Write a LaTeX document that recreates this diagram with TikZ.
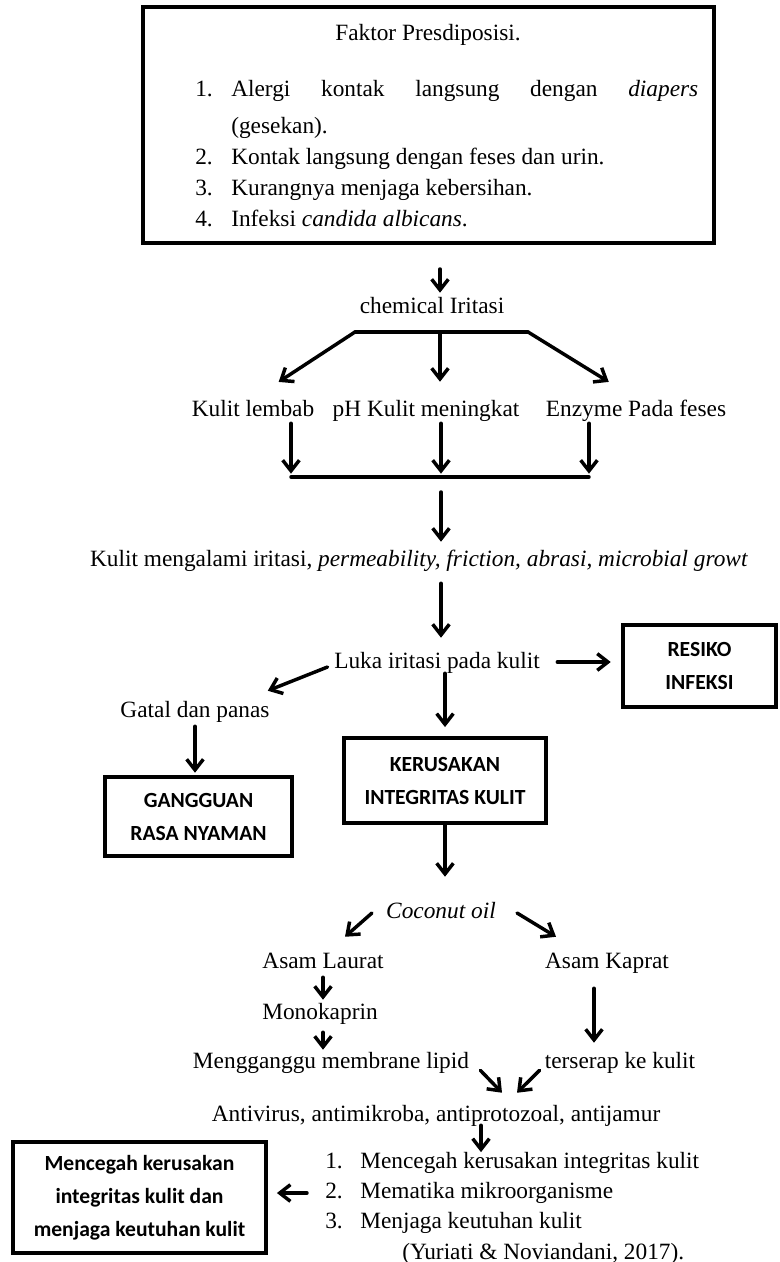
\documentclass[tikz,border=0pt]{standalone}
\usepackage{fontspec}
\setmainfont{Liberation Serif}
\newfontfamily\kotakfont{Carlito}
\usetikzlibrary{arrows.meta,calc}

\newcommand{\teks}{\fontsize{17.5pt}{23.25pt}\selectfont}
\newcommand{\tebal}{\kotakfont\bfseries\fontsize{16.2pt}{24.75pt}\selectfont}

\tikzset{
  panah/.style={line width=2.6pt,line cap=round,-{Straight Barb[length=8pt,width=12.5pt]}},
  garis/.style={line width=2.6pt,line cap=round},
  tulisan/.style={inner sep=0pt,text height=12.75pt,text depth=3.75pt,font=\teks},
  kotak/.style={draw,line width=2.4pt,align=center,inner sep=0pt,font=\tebal},
}

\begin{document}
\begin{tikzpicture}[x=0.75pt,y=0.75pt,yscale=-1,xscale=1]
\useasboundingbox (0,0) rectangle (779,1262);

% Text Node
\node[draw,line width=3pt,minimum width=428.25pt,minimum height=177pt] (faktor) at (428.5,125) {};
\node[tulisan] (judul) at (428,35) {Faktor Presdiposisi.};
\node[anchor=base west,inner sep=0pt,font=\teks] (daftar) at (195,97) {\begin{minipage}[t]{377pt}
\makebox[27pt][l]{1.}\makebox[350.25pt][s]{Alergi kontak langsung dengan \textit{diapers}}\\[4.5pt]
\hspace*{27pt}(gesekan).\\
\makebox[27pt][l]{2.}Kontak langsung dengan feses dan urin.\\
\makebox[27pt][l]{3.}Kurangnya menjaga kebersihan.\\
\makebox[27pt][l]{4.}Infeksi \textit{candida albicans}.
\end{minipage}};

% Text Node
\node[tulisan] (chem) at (432,308) {chemical Iritasi};
\coordinate (brl) at (355,332);
\coordinate (brm) at (440,332);
\coordinate (brr) at (528,332);
\node[tulisan] (lembab) at (253,410) {Kulit lembab};
\node[tulisan] (phkulit) at (426,410) {pH Kulit meningkat};
\node[tulisan] (enzim) at (636,410) {Enzyme Pada feses};
\coordinate (gbl) at (291,477);
\coordinate (gbm) at (441,477);
\coordinate (gbr) at (589,477);
\node[tulisan] (alami) at (419,560) {Kulit mengalami iritasi, \textit{permeability, friction, abrasi, microbial growt}};
\node[tulisan] (luka) at (437,662) {Luka iritasi pada kulit};
\node[kotak,minimum width=114.75pt,minimum height=61.5pt] (resiko) at (699.5,666) {RESIKO\\INFEKSI};
\node[tulisan] (gatal) at (195,711) {Gatal dan panas};
\node[kotak,minimum width=140.25pt,minimum height=59.25pt] (nyaman) at (198.5,816.5) {GANGGUAN\\RASA NYAMAN};
\node[kotak,minimum width=151.5pt,minimum height=63.75pt] (rusak) at (445,780.5) {KERUSAKAN\\INTEGRITAS KULIT};

% Text Node
\node[tulisan] (kelapa) at (441,912) {\textit{Coconut oil}};
\node[tulisan] (laurat) at (323,962) {Asam Laurat};
\node[tulisan] (kaprat) at (607,962) {Asam Kaprat};
\node[tulisan] (mono) at (320,1013) {Monokaprin};
\node[tulisan] (lipid) at (331,1062) {Mengganggu membrane lipid};
\node[tulisan] (serap) at (620,1062) {terserap ke kulit};
\node[tulisan] (anti) at (436,1115) {Antivirus, antimikroba, antiprotozoal, antijamur};
\node[anchor=west,inner sep=0pt,font=\teks] (hasil) at (325,1193) {\begin{minipage}{300pt}\fontsize{17.5pt}{22.5pt}\selectfont
\makebox[26.25pt][l]{1.}Mencegah kerusakan integritas kulit\\
\makebox[26.25pt][l]{2.}Mematika mikroorganisme\\
\makebox[26.25pt][l]{3.}Menjaga keutuhan kulit
\end{minipage}};
\node[tulisan,anchor=west] (sumber) at (402,1253) {(Yuriati \& Noviandani, 2017).};
\node[kotak,minimum width=189.75pt,minimum height=83.25pt] (cegah) at (139.5,1197.5) {Mencegah kerusakan\\integritas kulit dan\\menjaga keutuhan kulit};
\coordinate (sumbu) at (481,1140);

%Straight Lines
\draw[panah,shorten <=18pt,shorten >=3pt] (faktor.south -| brm) -- (chem.north -| brm);
\draw[garis] (brl) -- (brr);
\draw[panah,shorten >=23pt] (brl) -- (lembab.north);
\draw[panah,shorten >=12.75pt] (brm) -- (phkulit.north -| brm);
\draw[panah,shorten >=24pt] (brr) -- (enzim.north);

%Straight Lines
\draw[panah,shorten <=1.5pt,shorten >=2.5pt] (lembab.south -| gbl) -- (gbl);
\draw[panah,shorten <=1.5pt,shorten >=2.5pt] (phkulit.south -| gbm) -- (gbm);
\draw[panah,shorten <=1.5pt,shorten >=2.5pt] (enzim.south -| gbr) -- (gbr);
\draw[garis] (gbl) -- (gbr);
\draw[panah,shorten <=11.25pt,shorten >=5.25pt] (gbm) -- (alami.north -| gbm);
\draw[panah,shorten <=9pt,shorten >=9.75pt] (alami.south -| gbm) -- (luka.north -| gbm);

%Straight Lines
\draw[panah,shorten <=13pt,shorten >=8pt] (luka.east) -- (resiko.west |- luka.east);
\draw[panah] ($(luka.west)+(-6.5,5)$) -- ($(gatal.north east)+(-2,-9)$);
\draw[panah,shorten <=3pt,shorten >=2pt] (gatal.south) -- (gatal.south |- nyaman.north);
\draw[panah,shorten >=7pt] (luka.south -| rusak) -- (rusak.north);
\draw[panah,shorten >=18pt] (rusak.south) -- (rusak.south |- kelapa.north);

%Straight Lines
\draw[panah] ($(kelapa.west)+(-14,1)$) -- ($(laurat.north)+(22,-14)$);
\draw[panah] ($(kelapa.east)+(21,1)$) -- ($(kaprat.north)+(-51,-14)$);
\draw[panah,shorten <=3pt,shorten >=1.5pt] (laurat.south) -- (laurat.south |- mono.north);
\draw[panah,shorten <=6pt,shorten >=0.75pt] (mono.south -| laurat) -- (lipid.north -| laurat);
\draw[panah,shorten <=11.25pt,shorten >=6pt] ($(kaprat.south)+(-13,0)$) -- ($(kaprat.south |- serap.north)+(-13,0)$);
\draw[panah] ($(lipid.south east)+(11,-3)$) -- ($(anti.north)+(66,-11)$);
\draw[panah] ($(serap.south west)+(-5,-3)$) -- ($(anti.north)+(81,-11)$);
\draw[panah,shorten <=-0.75pt] (anti.south -| sumbu) -- (hasil.north -| sumbu);
\draw[panah,shorten <=13.5pt,shorten >=7pt] (hasil.west) -- (cegah.east |- hasil.west);

\end{tikzpicture}
\end{document}
